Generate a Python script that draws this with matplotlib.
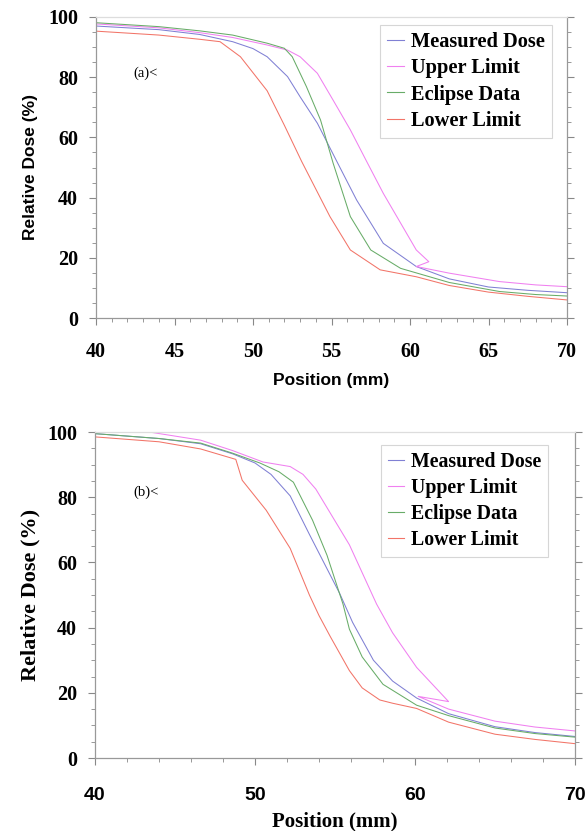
import matplotlib
matplotlib.use('Agg')

import matplotlib.pyplot as plt
from matplotlib.ticker import MultipleLocator

# panel (a)
a_meas_x = [40, 44, 46.6, 48.7, 50, 50.9, 52.2, 53.0, 54.1, 55.4, 56.6, 58.3, 60.4, 62.5, 65, 67.5, 70]
a_meas_y = [97, 95.8, 94.2, 91.8, 89.5, 86.8, 80.2, 73.5, 64.7, 51.4, 39.2, 24.8, 17.1, 13.0, 10.3, 9.2, 8.4]
a_upper_x = [40, 44, 46.6, 48.7, 50.9, 52.2, 53.0, 54.1, 55.1, 56.2, 57.3, 58.3, 60.4, 61.2, 60.4, 62.5, 65.7, 68, 70]
a_upper_y = [97.7, 96.4, 94.8, 93.2, 90.7, 89.0, 86.8, 81.3, 72.4, 62.5, 51.4, 41.4, 22.6, 18.7, 17.1, 14.9, 12.1, 11.0, 10.4]
a_eclipse_x = [40, 44, 46.6, 48.7, 50.9, 52.0, 52.5, 53.4, 54.3, 55.1, 56.2, 57.5, 59.4, 62.5, 65.7, 68, 70]
a_eclipse_y = [98.1, 96.8, 95.4, 94.0, 91.3, 89.6, 86.8, 76.9, 65.8, 51.5, 33.7, 22.6, 16.5, 11.8, 8.8, 7.8, 7.3]
a_lower_x = [40, 44, 46.6, 47.9, 49.2, 50.9, 52.0, 53.1, 54.9, 56.2, 58.1, 60.4, 62.5, 65, 67.5, 70]
a_lower_y = [95.3, 94.0, 92.6, 91.8, 86.8, 75.5, 64.0, 52.0, 33.7, 22.6, 16.0, 13.7, 10.8, 8.6, 7.2, 6.0]

# panel (b)
b_meas_x = [40, 44, 46.6, 48.6, 50, 51, 52.2, 53.4, 55.3, 56.1, 57.4, 58.6, 60.1, 62.1, 65, 67.5, 70]
b_meas_y = [99.5, 98.0, 96.4, 93.3, 90.5, 87.0, 80.4, 68.6, 50.4, 41.6, 30.0, 23.6, 18.4, 13.6, 9.6, 7.8, 6.6]
b_upper_x = [40, 43, 46.6, 48.6, 50.5, 52.2, 53.0, 53.8, 55.9, 57.6, 58.6, 60.1, 61.3, 62.1, 60.2, 62.1, 65, 67.5, 70]
b_upper_y = [101.5, 100.3, 97.5, 94.3, 90.8, 89.4, 87.0, 82.5, 65.4, 47.2, 38.4, 27.8, 21.5, 17.3, 18.9, 15.0, 11.3, 9.5, 8.3]
b_eclipse_x = [40, 44, 46.6, 48.6, 50.3, 51.5, 52.4, 53.6, 54.5, 55.5, 55.9, 56.7, 58.0, 60.1, 62.1, 65, 67.5, 70]
b_eclipse_y = [99.5, 98.0, 96.6, 93.5, 90.5, 87.8, 84.6, 72.9, 62.2, 47.2, 39.5, 31.0, 22.6, 16.2, 13.0, 9.2, 7.5, 6.4]
b_lower_x = [40, 44, 46.6, 48.8, 49.2, 50.7, 52.2, 53.4, 54.0, 54.7, 55.9, 56.7, 57.8, 58.6, 60.1, 62.1, 65, 67.5, 70]
b_lower_y = [98.5, 97.0, 94.8, 91.6, 85.2, 76.0, 64.3, 50.0, 43.7, 37.3, 26.8, 21.5, 17.8, 16.8, 15.2, 11.0, 7.3, 5.7, 4.4]

labels = ['Measured Dose', 'Upper Limit', 'Eclipse Data', 'Lower Limit']
colors = ['#8080d4', '#f080f0', '#68ac68', '#f27468']

serif = 'Liberation Serif'
sans = 'Liberation Sans'

fig = plt.figure(figsize=(5.87, 8.31), dpi=100)
ax1 = fig.add_axes([96/587, 1-318/831, (567-96)/587, (318-17)/831])
ax2 = fig.add_axes([95/587, 1-758/831, (575-95)/587, (758-432)/831])


def style_axes(ax, xmajor, xminor, xtick_font, xsize, xpad):
    ax.set_xlim(40, 70)
    ax.set_ylim(0, 100)
    ax.xaxis.set_major_locator(MultipleLocator(xmajor))
    ax.xaxis.set_minor_locator(MultipleLocator(xminor))
    ax.yaxis.set_major_locator(MultipleLocator(20))
    ax.yaxis.set_minor_locator(MultipleLocator(5))
    for s in ax.spines.values():
        s.set_color('#999999')
        s.set_linewidth(0.9)
    ax.spines['top'].set_color('#dddddd')
    ax.tick_params(which='both', direction='out', color='#888888', right=True)
    ax.tick_params(which='major', length=5, width=0.8)
    ax.tick_params(which='minor', length=3, width=0.6)
    ax.tick_params(axis='x', pad=xpad)
    ax.tick_params(axis='y', pad=8)
    for t in ax.get_yticklabels():
        t.set_fontfamily(serif)
        t.set_fontweight('bold')
        t.set_fontsize(14.5)
    for t in ax.get_xticklabels():
        t.set_fontfamily(xtick_font)
        t.set_fontweight('bold')
        t.set_fontsize(xsize)


def add_legend(ax, anchor, size):
    leg = ax.legend(loc='upper right', bbox_to_anchor=anchor, borderaxespad=0, handlelength=0.8,
                    handletextpad=0.35, labelspacing=0.3, borderpad=0.35, fancybox=False,
                    edgecolor='#cccccc', prop={'family': serif, 'weight': 'bold', 'size': size})
    leg.get_frame().set_linewidth(0.8)
    for h in leg.get_lines():
        h.set_linewidth(0.8)


series_a = [(a_meas_x, a_meas_y), (a_upper_x, a_upper_y), (a_eclipse_x, a_eclipse_y), (a_lower_x, a_lower_y)]
for (x, y), c, lab in zip(series_a, colors, labels):
    ax1.plot(x, y, color=c, lw=0.75, label=lab)
style_axes(ax1, 5, 1, serif, 14.5, 12)
ax1.set_xlabel('Position (mm)', fontfamily=sans, fontweight='bold', fontsize=12.5, labelpad=8)
ax1.set_ylabel('Relative Dose (%)', fontfamily=sans, fontweight='bold', fontsize=12.5, labelpad=7)
ax1.text(42.4, 81.4, '(a)<', fontfamily=serif, fontsize=10.5, va='center')
add_legend(ax1, (0.968, 0.973), 14.7)

series_b = [(b_meas_x, b_meas_y), (b_upper_x, b_upper_y), (b_eclipse_x, b_eclipse_y), (b_lower_x, b_lower_y)]
for (x, y), c, lab in zip(series_b, colors, labels):
    ax2.plot(x, y, color=c, lw=0.75, label=lab)
style_axes(ax2, 10, 2, sans, 14, 16)
ax2.set_xlabel('Position (mm)', fontfamily=serif, fontweight='bold', fontsize=15, labelpad=5)
ax2.set_ylabel('Relative Dose (%)', fontfamily=serif, fontweight='bold', fontsize=16, labelpad=5)
ax2.text(42.4, 81.6, '(b)<', fontfamily=serif, fontsize=10.5, va='center')
add_legend(ax2, (0.944, 0.959), 14.3)

fig.savefig('out.png', dpi=100)
